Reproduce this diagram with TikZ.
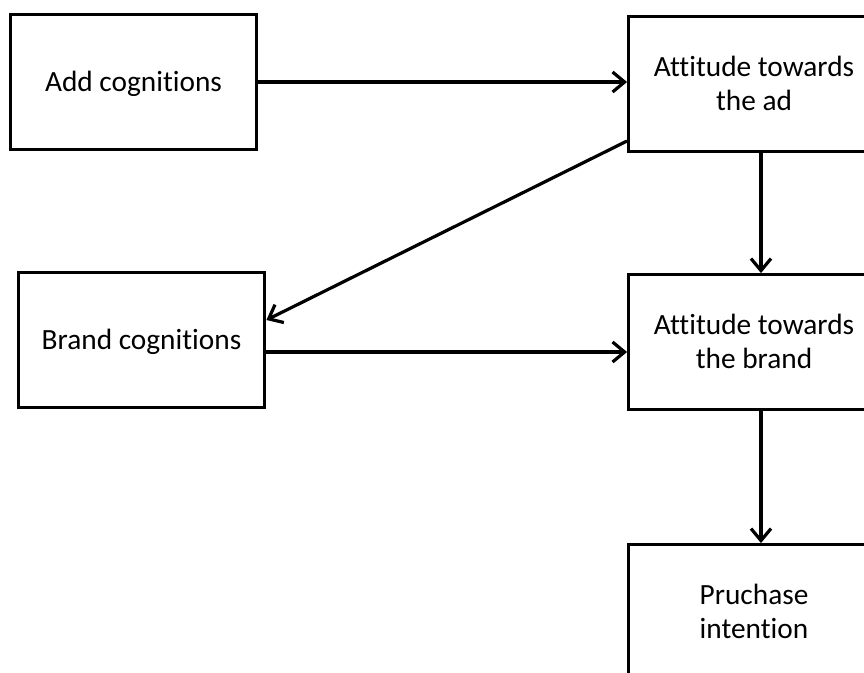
\documentclass[tikz,border=0pt]{standalone}
\usepackage{fontspec}
\setmainfont[Ligatures={NoCommon}]{Carlito}
\usetikzlibrary{arrows.meta}
\tikzset{
  box/.style={draw, line width=2.4pt, minimum width=185pt, minimum height=101pt,
    align=center, inner sep=0pt, text depth=1pt, font=\fontsize{22}{26}\selectfont},
  widebox/.style={box, minimum width=188pt},
  arr/.style={line width=2.4pt, -{Straight Barb[length=9pt,width=15pt,line width=2.4pt]}}
}
\begin{document}
\begin{tikzpicture}[x=0.75pt,y=-0.75pt]
  \useasboundingbox (0,0) rectangle (864,672);
  \clip (0,0) rectangle (864,672);

  % left column
  \node[box] (addcog) at (133.5,82) {Add cognitions};
  \node[box] (brandcog) at (141.5,340) {Brand cognitions};

  % right column
  \node[widebox] (attad) at (754,84) {Attitude towards\\the ad};
  \node[widebox] (attbrand) at (754,342) {Attitude towards\\the brand};
  \node[widebox] (purchase) at (754,612) {Pruchase\\intention};

  \draw[arr] (addcog.east) -- (addcog.east -| attad.west);
  \draw[arr] ([yshift=-42.75pt]attad.west) -- ([yshift=15pt]brandcog.east);
  \draw[arr] ([yshift=-9pt]brandcog.east) -- ([yshift=-9pt]brandcog.east -| attbrand.west);
  \draw[arr] ([xshift=5.25pt]attad.south) -- ([xshift=5.25pt]attbrand.north);
  \draw[arr] ([xshift=5.25pt]attbrand.south) -- ([xshift=5.25pt]purchase.north);
\end{tikzpicture}
\end{document}
